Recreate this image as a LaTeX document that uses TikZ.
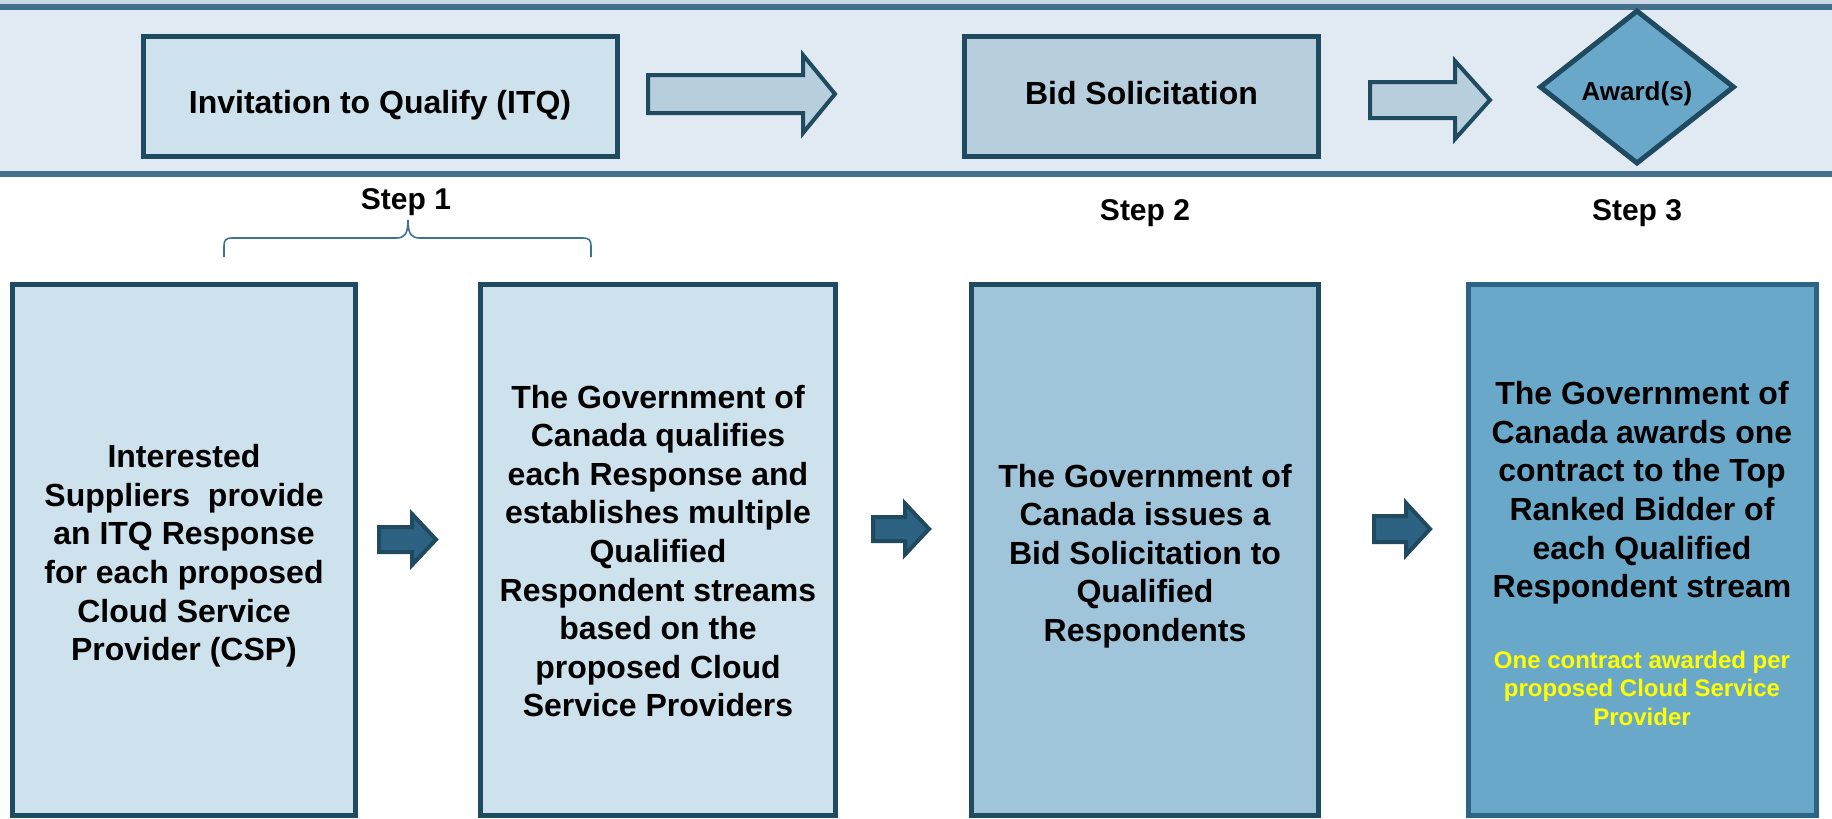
\documentclass[tikz,border=0pt]{standalone}
\usepackage{fontspec}
\setmainfont{Liberation Sans}
\usetikzlibrary{shapes.geometric}
\definecolor{bandfill}{HTML}{E1EAF2}
\definecolor{bandline}{HTML}{45718C}
\definecolor{bandtop}{HTML}{C9DAE6}
\definecolor{darkline}{HTML}{1F4A5F}
\definecolor{palefill}{HTML}{CEE2ED}
\definecolor{midfill}{HTML}{B7CEDC}
\definecolor{mediumfill}{HTML}{A0C5DB}
\definecolor{deepfill}{HTML}{6AA8CA}
\definecolor{deepline}{HTML}{2E6483}
\definecolor{arrowfill}{HTML}{2E6282}
\definecolor{bracecol}{HTML}{3F7190}
\definecolor{notecol}{HTML}{FFFF00}
\begin{document}
\begin{tikzpicture}[x=0.5pt,y=-0.5pt,
  box/.style={draw=darkline, line width=2.5pt, inner sep=0pt, outer sep=0pt},
  toptext/.style={font=\bfseries\fontsize{16}{19}\selectfont, inner sep=0pt},
  steptext/.style={font=\bfseries\fontsize{15}{18}\selectfont, inner sep=0pt, anchor=base},
  bodytext/.style={font=\bfseries\fontsize{16}{19.3}\selectfont, align=center, inner sep=0pt},
  notetext/.style={font=\bfseries\fontsize{12}{14.25}\selectfont, align=center, inner sep=0pt, text=notecol},
  bigarrow/.style={draw=darkline, fill=midfill, line width=2pt, line join=miter},
  smallarrow/.style={draw=darkline, fill=arrowfill, line width=2pt, line join=miter}]
\fill[white] (0,0) rectangle (1832,819);
\useasboundingbox (0,0) rectangle (1832,819);
% top band
\fill[bandtop] (0,0) rectangle (1832,4);
\fill[bandfill] (0,10) rectangle (1832,171);
\fill[bandline] (0,4) rectangle (1832,10);
\fill[bandline] (0,171) rectangle (1832,177);
% top row
\node[box, fill=palefill, minimum width=237pt, minimum height=60pt] (itq) at (380,96.5) {};
\node[toptext, anchor=base] (itqt) at (380,113) {Invitation to Qualify (ITQ)};
\node[box, fill=midfill, minimum width=177pt, minimum height=60pt] (bid) at (1141.5,96.5) {};
\node[toptext, anchor=base] (bidt) at (1141.5,104) {Bid Solicitation};
\node[diamond, draw=darkline, fill=deepfill, line width=2.5pt, inner sep=0pt,
      minimum width=97.5pt, minimum height=77pt] (award) at (1637,87) {};
\node[font=\bfseries\fontsize{13}{15}\selectfont, inner sep=0pt, anchor=base] (awardt) at (1637,100) {Award(s)};
\draw[bigarrow] (648,75) -- (803,75) -- (803,55) -- (835,94) -- (803,133) -- (803,113) -- (648,113) -- cycle;
\draw[bigarrow] (1370,82) -- (1455,82) -- (1455,61) -- (1490,100) -- (1455,139) -- (1455,118) -- (1370,118) -- cycle;
% steps
\node[steptext] (s1) at (406,209) {Step 1};
\node[steptext] (s2) at (1145,220) {Step 2};
\node[steptext] (s3) at (1637,220) {Step 3};
% brace
\draw[bracecol, line width=0.8pt] (224,257) -- (224,246) .. controls (224,240) and (226,238) .. (232,238)
  -- (396,238) .. controls (404,238) and (408,235) .. (408,220)
  .. controls (408,235) and (412,238) .. (420,238) -- (583,238)
  .. controls (589,238) and (591,240) .. (591,246) -- (591,257);
% bottom boxes
\node[box, fill=palefill, minimum width=171.5pt, minimum height=265.5pt] (b1) at (184,550) {};
\node[box, fill=palefill, minimum width=177.5pt, minimum height=265.5pt] (b2) at (658,550) {};
\node[box, fill=mediumfill, minimum width=173.5pt, minimum height=265.5pt] (b3) at (1145,550) {};
\node[box, draw=deepline, fill=deepfill, minimum width=174pt, minimum height=265.5pt] (b4) at (1642.5,550) {};
\node[bodytext] (t1) at (184,556) {Interested\\Suppliers\ \ provide\\an ITQ Response\\for each proposed\\Cloud Service\\Provider (CSP)};
\node[bodytext] (t2) at (658,551) {The Government of\\Canada qualifies\\each Response and\\establishes multiple\\Qualified\\Respondent streams\\based on the\\proposed Cloud\\Service Providers};
\node[bodytext] (t3) at (1145,556) {The Government of\\Canada issues a\\Bid Solicitation to\\Qualified\\Respondents};
\node[bodytext] (t4) at (1642,493) {The Government of\\Canada awards one\\contract to the Top\\Ranked Bidder of\\each Qualified\\Respondent stream};
\node[notetext] (t5) at (1642,688) {One contract awarded per\\proposed Cloud Service\\Provider};
% small arrows
\draw[smallarrow] (379,527) -- (412,527) -- (412,514) -- (436,539.5) -- (412,565) -- (412,552) -- (379,552) -- cycle;
\draw[smallarrow] (873,517) -- (905,517) -- (905,503.5) -- (929,529) -- (905,554.5) -- (905,541) -- (873,541) -- cycle;
\draw[smallarrow] (1374,516) -- (1406,516) -- (1406,503) -- (1430,529) -- (1406,555) -- (1406,542) -- (1374,542) -- cycle;
\end{tikzpicture}
\end{document}
